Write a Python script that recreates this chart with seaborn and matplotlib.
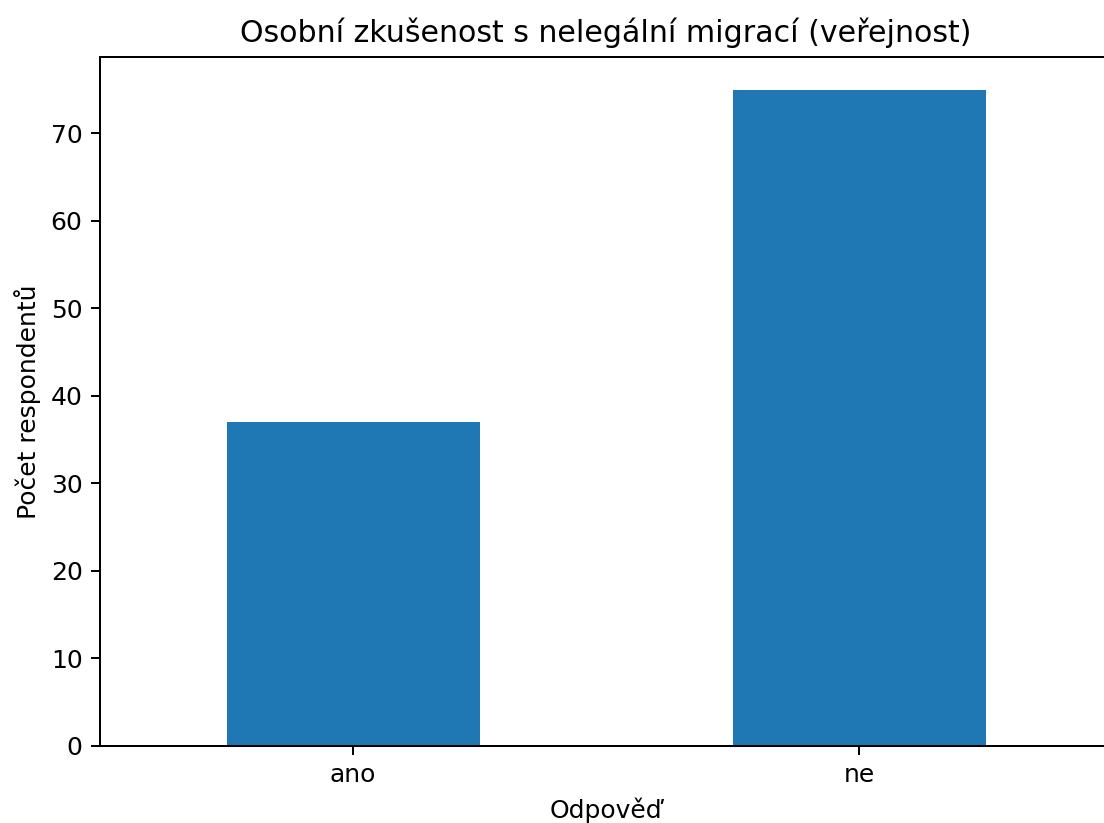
import pandas as pd
import matplotlib
matplotlib.use("Agg")
import matplotlib.pyplot as plt
import seaborn as sns

# data
answers = ["ano", "ne"]
counts = [37, 75]

df = pd.DataFrame({"Odpověď": answers, "Počet respondentů": counts})

dpi = 180
fig = plt.figure(figsize=(1104 / dpi, 823 / dpi), dpi=dpi)
# the right spine sits just past the image edge in the reference
ax = fig.add_axes([0.0906, 0.0936, 0.9167, 0.8374])

sns.barplot(data=df, x="Odpověď", y="Počet respondentů", order=answers,
            color="#1f77b4", saturation=1, width=0.5, ax=ax)

ax.set_xlim(-0.5, 1.5)
ax.set_title("Osobní zkušenost s nelegální migrací (veřejnost)")
ax.set_xlabel("Odpověď")
ax.set_ylabel("Počet respondentů")

fig.savefig("out.png", dpi=dpi)
